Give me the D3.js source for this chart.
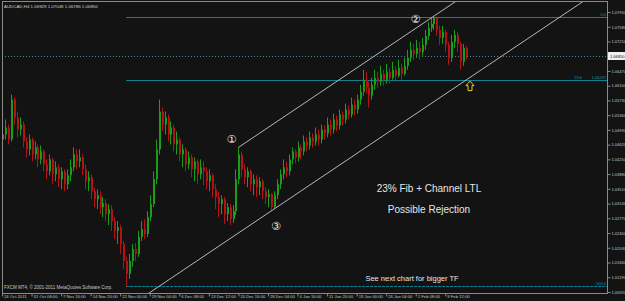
<!DOCTYPE html>
<html>
<head>
<meta charset="utf-8">
<script src="https://cdn.jsdelivr.net/npm/d3@7"></script>
<style>
  body { margin: 0; background: #131313; }
  svg { display: block; }
</style>
</head>
<body>
<script>
const width = 625;
const height = 301;

const title = "AUDCAD,H4  1.06929 1.07048 1.06786 1.06850";

// H4 candles (open = previous close)
const firstOpen = 1.0475;
const closes = [
  1.04875, 1.0505, 1.0475, 1.0575, 1.053, 1.05, 1.05125, 1.047, 1.045, 1.0475,
  1.04375, 1.0455, 1.0425, 1.0445, 1.04125, 1.0395, 1.0425, 1.03875, 1.0405, 1.0375,
  1.0395, 1.03625, 1.0385, 1.0405, 1.04375, 1.042, 1.043, 1.04, 1.037, 1.038,
  1.0345, 1.0325, 1.0335, 1.0305, 1.0315, 1.02875, 1.03, 1.027, 1.0245, 1.0255,
  1.02125, 1.017, 1.01375, 1.017, 1.02, 1.01875, 1.023, 1.025, 1.02375, 1.028,
  1.03125, 1.0375, 1.045, 1.0545, 1.05125, 1.053, 1.04875, 1.0505, 1.04625, 1.0475,
  1.04375, 1.045, 1.04125, 1.043, 1.04, 1.042, 1.03875, 1.0405, 1.0395, 1.037,
  1.0385, 1.035, 1.033, 1.03125, 1.0325, 1.02875, 1.0305, 1.0275, 1.0295, 1.0375,
  1.04375, 1.04, 1.038, 1.0395, 1.03625, 1.0375, 1.0355, 1.037, 1.0345, 1.033,
  1.03375, 1.0305, 1.0335, 1.03625, 1.03875, 1.0405, 1.0395, 1.0425, 1.0445, 1.043,
  1.0455, 1.0445, 1.047, 1.046, 1.048, 1.047, 1.04875, 1.0475, 1.05, 1.049,
  1.05125, 1.05, 1.0525, 1.051, 1.05375, 1.0525, 1.055, 1.05375, 1.05625, 1.055,
  1.0575, 1.0595, 1.0625, 1.0605, 1.0585, 1.06125, 1.063, 1.062, 1.064, 1.0625,
  1.0645, 1.063, 1.065, 1.0635, 1.0655, 1.064, 1.066, 1.068, 1.07, 1.069,
  1.0705, 1.0695, 1.07125, 1.0735, 1.0755, 1.0765, 1.078, 1.075, 1.073, 1.0745,
  1.07125, 1.068, 1.072, 1.07375, 1.0715, 1.067, 1.0705, 1.0685
];
const highs = [
  1.0525, 1.0525, 1.05125, 1.05875, 1.058, 1.0545, 1.053, 1.052, 1.048, 1.04875,
  1.048, 1.047, 1.04625, 1.046, 1.045, 1.0425, 1.04375, 1.043, 1.042, 1.04125,
  1.0405, 1.04, 1.04, 1.0425, 1.0455, 1.045, 1.045, 1.04375, 1.04125, 1.0395,
  1.03875, 1.0355, 1.035, 1.0345, 1.033, 1.0325, 1.03125, 1.031, 1.028, 1.027,
  1.026, 1.022, 1.018, 1.01875, 1.02125, 1.0215, 1.0245, 1.027, 1.0275, 1.0295,
  1.0335, 1.0395, 1.0475, 1.0575, 1.0555, 1.0545, 1.05375, 1.052, 1.05125, 1.0495,
  1.048, 1.04625, 1.0455, 1.0445, 1.04375, 1.043, 1.0425, 1.0425, 1.042, 1.0405,
  1.04, 1.039, 1.03625, 1.0345, 1.0335, 1.033, 1.0315, 1.03125, 1.031, 1.04,
  1.0455, 1.0445, 1.04125, 1.0405, 1.04, 1.03875, 1.0385, 1.038, 1.0375, 1.0355,
  1.035, 1.034, 1.0345, 1.0375, 1.04, 1.0425, 1.042, 1.04375, 1.0455, 1.045,
  1.047, 1.04625, 1.0485, 1.048, 1.0495, 1.049, 1.0505, 1.05, 1.05125, 1.051,
  1.053, 1.0525, 1.054, 1.0535, 1.055, 1.0545, 1.0565, 1.056, 1.058, 1.0575,
  1.05875, 1.06125, 1.065, 1.0645, 1.062, 1.063, 1.065, 1.0645, 1.066, 1.065,
  1.0665, 1.0655, 1.067, 1.066, 1.0675, 1.0665, 1.068, 1.07, 1.072, 1.0715,
  1.0725, 1.072, 1.073, 1.075, 1.077, 1.078, 1.0784, 1.0775, 1.076, 1.076,
  1.075, 1.072, 1.07375, 1.075, 1.0745, 1.072, 1.0715, 1.071
];
const lows = [
  1.045, 1.0475, 1.04625, 1.047, 1.05125, 1.048, 1.0485, 1.0455, 1.043, 1.0435,
  1.042, 1.0425, 1.0405, 1.04125, 1.0395, 1.0375, 1.0385, 1.03625, 1.037, 1.0355,
  1.035, 1.0345, 1.035, 1.037, 1.0395, 1.04, 1.0405, 1.0385, 1.035, 1.0345,
  1.0325, 1.0305, 1.03, 1.02875, 1.028, 1.027, 1.026, 1.0245, 1.0225, 1.02125,
  1.01875, 1.015, 1.0106, 1.0125, 1.0155, 1.017, 1.018, 1.022, 1.0225, 1.023,
  1.027, 1.0305, 1.03625, 1.04375, 1.0495, 1.04875, 1.047, 1.04625, 1.0445, 1.04375,
  1.042, 1.0405, 1.0395, 1.04, 1.038, 1.037, 1.03625, 1.0375, 1.036, 1.035,
  1.0345, 1.033, 1.03, 1.028, 1.02875, 1.02625, 1.027, 1.026, 1.0265, 1.0285,
  1.03625, 1.038, 1.03625, 1.0355, 1.0345, 1.0335, 1.033, 1.0335, 1.0325, 1.03125,
  1.0305, 1.0295, 1.03, 1.0325, 1.035, 1.0375, 1.038, 1.0385, 1.04125, 1.0415,
  1.042, 1.0425, 1.0435, 1.0445, 1.045, 1.0455, 1.046, 1.046, 1.0465, 1.0475,
  1.048, 1.0485, 1.049, 1.0495, 1.05, 1.051, 1.0515, 1.0525, 1.053, 1.0535,
  1.054, 1.05625, 1.0585, 1.059, 1.0555, 1.0575, 1.06, 1.0605, 1.061, 1.061,
  1.0615, 1.0615, 1.0625, 1.062, 1.063, 1.0625, 1.0635, 1.065, 1.067, 1.0675,
  1.068, 1.0675, 1.0685, 1.07, 1.0725, 1.0745, 1.075, 1.0735, 1.07125, 1.0715,
  1.0695, 1.06625, 1.067, 1.0705, 1.0695, 1.065, 1.066, 1.0675
];

const priceTicks = [
  1.0092, 1.0129, 1.0166, 1.0203, 1.024, 1.0277, 1.0314, 1.0351, 1.0388, 1.0425,
  1.0462, 1.0499, 1.0536, 1.0573, 1.061, 1.0647, 1.0684, 1.0721, 1.0758, 1.0795
];
const timeLabels = [
  "24 Oct 2011", "31 Oct 08:00", "7 Nov 16:00", "14 Nov 20:00", "22 Nov 00:00",
  "29 Nov 04:00", "6 Dec 08:00", "13 Dec 12:00", "20 Dec 16:00", "28 Dec 04:00",
  "4 Jan 16:00", "11 Jan 20:00", "19 Jan 00:00", "26 Jan 04:00", "2 Feb 08:00",
  "9 Feb 12:00"
];
const timeIdx = [0, 10, 20, 30, 40, 50, 60, 70, 80, 90, 100, 110, 120, 130, 140, 150];

const lastPrice = 1.0685;
const fibHigh = 1.07835;
const fibLow = 1.01064;
const fibStartBar = 42;
const fibLevels = [0, 23.6, 100];

// channel: upper through (1) and (2), lower parallel through (3)
const upperBars = [80, 146];
const upperPrices = [1.0455, 1.0784];
const lowerBar = 91;
const lowerPrice = 1.0295;

const plot = { left: 2, top: 2, right: 607, bottom: 293 };
const smallFont = "Liberation Sans, Arial, sans-serif";

const svg = d3
  .select("body")
  .append("svg")
  .attr("width", width)
  .attr("height", height)
  .style("background", "#131313");

const x = d3.scaleLinear().domain([0, closes.length - 1]).range([2, 466]);
const y = d3.scaleLinear().domain([priceTicks[0], priceTicks[priceTicks.length - 1]]).range([292, 12]);

svg.append("clipPath").attr("id", "clip")
  .append("rect")
  .attr("x", plot.left).attr("y", plot.top)
  .attr("width", plot.right - plot.left).attr("height", plot.bottom - plot.top);

const g = svg.append("g").attr("clip-path", "url(#clip)");

const candles = closes.map((c, i) => {
  const o = i === 0 ? firstOpen : closes[i - 1];
  return { i, o, c, h: Math.max(highs[i], o, c), l: Math.min(lows[i], o, c) };
});

/* ---------- fib levels ---------- */
const fibPrice = (lvl) => fibHigh - (lvl / 100) * (fibHigh - fibLow);
g.selectAll(".fib")
  .data(fibLevels)
  .enter()
  .append("line")
  .attr("x1", x(fibStartBar))
  .attr("x2", plot.right)
  .attr("y1", (d) => Math.round(y(fibPrice(d))) + 0.5)
  .attr("y2", (d) => Math.round(y(fibPrice(d))) + 0.5)
  .attr("stroke", "#17808f")
  .attr("stroke-width", 1)
  .attr("stroke-dasharray", (d) => (d === 100 ? "3,1" : null));

// current price line
g.append("line")
  .attr("x1", plot.left)
  .attr("x2", plot.right)
  .attr("y1", Math.round(y(lastPrice)) + 0.5)
  .attr("y2", Math.round(y(lastPrice)) + 0.5)
  .attr("stroke", "#4f7f96")
  .attr("stroke-dasharray", "1,2");

/* ---------- candles ---------- */
const up = "#1a9e1a";
const down = "#b01414";
const cg = g.append("g");
cg.selectAll("line")
  .data(candles)
  .enter()
  .append("line")
  .attr("x1", (d) => Math.round(x(d.i)) + 0.5)
  .attr("x2", (d) => Math.round(x(d.i)) + 0.5)
  .attr("y1", (d) => y(d.h))
  .attr("y2", (d) => y(d.l))
  .attr("stroke", (d) => (d.c >= d.o ? up : down));
cg.selectAll("rect")
  .data(candles)
  .enter()
  .append("rect")
  .attr("x", (d) => Math.round(x(d.i)))
  .attr("width", 2)
  .attr("y", (d) => y(Math.max(d.o, d.c)))
  .attr("height", (d) => Math.max(1, Math.abs(y(d.o) - y(d.c))))
  .attr("fill", (d) => (d.c >= d.o ? up : down));

/* ---------- channel ---------- */
const slope = (upperPrices[1] - upperPrices[0]) / (upperBars[1] - upperBars[0]);
const lineAt = (bar0, p0, bar) => p0 + slope * (bar - bar0);
g.append("line")
  .attr("x1", x(upperBars[0]))
  .attr("y1", y(upperPrices[0]))
  .attr("x2", x(260))
  .attr("y2", y(lineAt(upperBars[0], upperPrices[0], 260)))
  .attr("stroke", "#b8b8b8");
g.append("line")
  .attr("x1", x(-60))
  .attr("y1", y(lineAt(lowerBar, lowerPrice, -60)))
  .attr("x2", x(260))
  .attr("y2", y(lineAt(lowerBar, lowerPrice, 260)))
  .attr("stroke", "#b8b8b8");

/* ---------- frame and axes ---------- */
svg.append("rect")
  .attr("x", plot.left + 0.5).attr("y", plot.top - 0.5)
  .attr("width", plot.right - plot.left).attr("height", plot.bottom - plot.top + 1)
  .attr("fill", "none")
  .attr("stroke", "#8a8a8a");

const yAxis = svg.append("g")
  .attr("transform", `translate(${plot.right + 0.5},0)`)
  .call(d3.axisRight(y).tickValues(priceTicks).tickSize(3).tickFormat(d3.format(".5f")));
yAxis.select(".domain").remove();
yAxis.selectAll("line").attr("stroke", "#8a8a8a");
yAxis.selectAll("text")
  .attr("x", 4)
  .attr("fill", "#c4c4c4")
  .style("font-family", smallFont)
  .style("font-size", "4px");

const xAxis = svg.append("g")
  .attr("transform", `translate(0,${plot.bottom + 0.5})`)
  .call(d3.axisBottom(x).tickValues(timeIdx).tickSize(3).tickFormat((d, i) => timeLabels[i]));
xAxis.select(".domain").remove();
xAxis.selectAll("line").attr("stroke", "#8a8a8a");
xAxis.selectAll("text")
  .attr("text-anchor", "start")
  .attr("x", 1.5)
  .attr("y", 2)
  .attr("dy", "0.71em")
  .attr("fill", "#c4c4c4")
  .style("font-family", smallFont)
  .style("font-size", "4.2px");

// current price box
const py = Math.round(y(lastPrice));
svg.append("rect")
  .attr("x", plot.right + 1).attr("y", py - 4)
  .attr("width", 17).attr("height", 8)
  .attr("fill", "#f0f0f0");
svg.append("text")
  .attr("x", plot.right + 3).attr("y", py + 1.5)
  .attr("fill", "#111")
  .style("font-family", smallFont)
  .style("font-size", "4px")
  .text(d3.format(".5f")(lastPrice));

// fib labels
const fibText = svg.append("g")
  .style("font-family", smallFont)
  .style("font-size", "4px")
  .attr("fill", "#1c96a8")
  .attr("text-anchor", "end");
fibLevels.forEach((lvl) => {
  const fy = Math.round(y(fibPrice(lvl))) - 1;
  if (lvl === 0 || lvl === 100) {
    fibText.append("text").attr("x", plot.right - 1).attr("y", fy).text(lvl.toFixed(1));
  } else {
    fibText.append("text").attr("x", 582).attr("y", fy).text(lvl.toFixed(1));
    fibText.append("text").attr("x", plot.right - 1).attr("y", fy).text(d3.format(".5f")(fibPrice(lvl)));
  }
});

/* ---------- texts ---------- */
svg.append("text")
  .attr("x", 4).attr("y", 8)
  .attr("fill", "#d0d0d0")
  .style("font-family", smallFont)
  .style("font-size", "4.4px")
  .text(title);

svg.append("text")
  .attr("x", 4).attr("y", 289)
  .attr("fill", "#c8c8c8")
  .style("font-family", smallFont)
  .style("font-size", "4.5px")
  .text("FXCM MT4, © 2001-2011 MetaQuotes Software Corp.");

const note = svg.append("g")
  .attr("fill", "#e6e6e6")
  .attr("text-anchor", "middle")
  .style("font-family", "Liberation Sans, Arial, sans-serif");
note.append("text").attr("x", 429).attr("y", 192).style("font-size", "10px").text("23% Fib + Channel LTL");
note.append("text").attr("x", 429).attr("y", 213).style("font-size", "10px").text("Possible Rejection");
note.append("text").attr("x", 412).attr("y", 281).style("font-size", "7.5px").text("See next chart for bigger TF");

// wave labels
const marks = svg.append("g")
  .attr("fill", "#eeeeee")
  .attr("text-anchor", "middle")
  .style("font-family", "DejaVu Sans, Noto Sans CJK JP")
  .style("font-size", "11px");
marks.append("text").attr("x", x(upperBars[0]) - 7).attr("y", y(upperPrices[0]) - 4).text("①");
marks.append("text").attr("x", x(upperBars[1]) - 18).attr("y", y(upperPrices[1]) + 7).text("②");
marks.append("text").attr("x", x(lowerBar) + 5).attr("y", y(lowerPrice) + 19).text("③");

// yellow arrow under the channel line touch
const ax = x(closes.length - 1) + 4;
const ay = y(lineAt(lowerBar, lowerPrice, closes.length - 1)) + 1;
svg.append("path")
  .attr("d", `M${ax},${ay} l4,4.5 h-2 v5 h-4 v-5 h-2 z`)
  .attr("fill", "none")
  .attr("stroke", "#e8d21a")
  .attr("stroke-width", 1);
</script>
</body>
</html>
